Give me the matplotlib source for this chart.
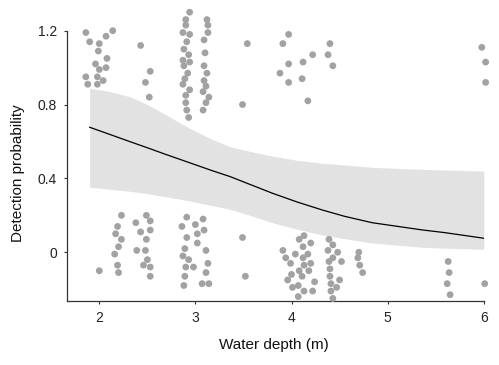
import numpy as np
import matplotlib.pyplot as plt

plt.rcParams['font.family'] = ['Liberation Sans', 'DejaVu Sans']

# fitted curve + confidence band
depth_fit = [1.90, 2.10, 2.32, 2.50, 2.67, 2.84, 3.01, 3.18, 3.36, 3.58, 3.80,
             4.06, 4.32, 4.55, 4.84, 5.36, 5.60, 6.00]
prob_fit = [0.677, 0.640, 0.599, 0.566, 0.534, 0.503, 0.472, 0.441, 0.410, 0.365, 0.320,
            0.272, 0.229, 0.195, 0.160, 0.121, 0.106, 0.076]
upper_ci = [0.888, 0.872, 0.842, 0.800, 0.752, 0.700, 0.653, 0.610, 0.572, 0.545, 0.521,
            0.498, 0.482, 0.473, 0.460, 0.449, 0.445, 0.440]
lower_ci = [0.352, 0.342, 0.330, 0.318, 0.302, 0.288, 0.270, 0.252, 0.233, 0.198, 0.160,
            0.125, 0.094, 0.074, 0.050, 0.027, 0.022, 0.016]

# jittered observations, detected (around 1)
det_x = [1.86, 1.90, 2.00, 2.07, 2.14, 1.99, 2.08, 1.96, 2.00, 2.07, 1.86, 1.98, 2.04, 1.88, 1.98,
         2.43, 2.53, 2.48, 2.52,
         2.94, 2.90, 2.90, 2.87, 2.94, 2.91, 2.88, 2.93, 2.87, 2.94, 2.88, 2.92, 2.89, 2.87,
         2.94, 2.90, 2.90, 2.91, 2.93,
         3.12, 3.13, 3.13, 3.09, 3.10, 3.09, 3.12, 3.09, 3.11, 3.08, 3.14, 3.11, 3.08,
         3.49, 3.54, 3.88, 3.91, 3.97, 4.40, 4.22, 4.38, 4.12, 3.97, 4.43, 3.97, 4.11, 4.17,
         5.98, 6.02, 6.02]
det_y = [1.19, 1.14, 1.13, 1.17, 1.20, 1.09, 1.05, 1.02, 0.99, 1.00, 0.95, 0.95, 0.93, 0.91, 0.91,
         1.12, 0.98, 0.92, 0.84,
         1.30, 1.26, 1.23, 1.19, 1.18, 1.14, 1.10, 1.07, 1.04, 1.03, 1.01, 0.97, 0.94, 0.91,
         0.88, 0.85, 0.81, 0.77, 0.73,
         1.26, 1.23, 1.19, 1.15, 1.08, 1.01, 0.97, 0.93, 0.90, 0.87, 0.84, 0.81, 0.77,
         0.80, 1.13, 0.97, 1.13, 1.18, 1.13, 1.07, 1.07, 1.03, 1.02, 1.01, 0.92, 0.94, 0.82,
         1.11, 1.03, 0.92]

# not detected (around 0)
non_x = [2.23, 2.19, 2.17, 2.23, 2.20, 2.16, 2.19, 2.20, 2.00,
         2.49, 2.38, 2.53, 2.43, 2.53, 2.49, 2.39, 2.48, 2.50, 2.46, 2.53, 2.53,
         2.91, 3.00, 3.08, 2.86, 3.02, 3.09, 2.91, 3.02, 2.89, 3.11, 2.87, 2.93, 3.13, 2.90,
         2.98, 3.11, 2.89, 3.07, 3.14, 2.88,
         3.49, 3.52,
         3.91, 3.94, 3.99, 4.04, 4.08, 4.13, 4.12, 4.20, 4.17, 4.12, 4.20, 4.13, 4.08, 4.18,
         4.00, 4.11, 3.96, 4.24, 4.07, 4.01, 4.13, 4.22, 4.07,
         4.39, 4.43, 4.38, 4.48, 4.43, 4.52, 4.39, 4.40, 4.40, 4.50, 4.41, 4.47, 4.41, 4.43,
         4.70, 4.69, 4.71, 4.74,
         5.63, 5.64, 5.62, 5.65, 6.01]
non_y = [0.20, 0.14, 0.10, 0.07, 0.03, -0.01, -0.07, -0.11, -0.10,
         0.20, 0.16, 0.17, 0.11, 0.12, 0.07, 0.01, 0.01, -0.04, -0.07, -0.08, -0.13,
         0.19, 0.15, 0.18, 0.14, 0.10, 0.12, 0.08, 0.05, 0.02, 0.01, -0.02, -0.04, -0.06, -0.08,
         -0.08, -0.11, -0.13, -0.17, -0.17, -0.18,
         0.08, -0.13,
         0.01, -0.03, -0.06, -0.01, 0.07, 0.09, 0.03, 0.05, -0.01, -0.03, -0.06, -0.07, -0.10, -0.10,
         -0.12, -0.13, -0.15, -0.16, -0.18, -0.19, -0.21, -0.21, -0.24,
         0.07, 0.04, 0.01, 0.00, -0.03, -0.05, -0.05, -0.09, -0.13, -0.15, -0.17, -0.19, -0.21, -0.25,
         0.00, -0.03, -0.07, -0.11,
         -0.05, -0.11, -0.17, -0.23, -0.17]

fig = plt.figure(figsize=(4.99, 3.65), dpi=100)
ax = fig.add_axes([0.1337, 0.1753, 0.8357, 0.7406])

ax.fill_between(depth_fit, lower_ci, upper_ci, color='#e2e2e2', lw=0, zorder=1)
ax.plot(depth_fit, prob_fit, color='black', lw=0.9, zorder=2)
ax.scatter(det_x, det_y, s=24, color='#a2a2a2', edgecolors='none', zorder=3, clip_on=False)
ax.scatter(non_x, non_y, s=24, color='#a2a2a2', edgecolors='none', zorder=3, clip_on=False)

ax.set_xlim(1.661, 6.0)
ax.set_ylim(-0.264, 1.2)
ax.set_xticks([2, 3, 4, 5, 6])
ax.set_yticks([0, 0.4, 0.8, 1.2])
ax.set_yticklabels(['0', '0.4', '0.8', '1.2'])

for s in ['top', 'right']:
    ax.spines[s].set_visible(False)
for s in ['left', 'bottom']:
    ax.spines[s].set_color('#333333')
    ax.spines[s].set_linewidth(0.9)
ax.tick_params(length=2.5, width=0.8, color='#333333', labelsize=10,
               labelcolor='#222222', pad=4.5)

ax.set_xlabel('Water depth (m)', fontsize=11, color='#111111')
ax.set_ylabel('Detection probability', fontsize=11, color='#111111')
ax.xaxis.set_label_coords(0.4976, -0.1365)
ax.yaxis.set_label_coords(-0.100, 0.472)

fig.savefig('out.png', dpi=100)
